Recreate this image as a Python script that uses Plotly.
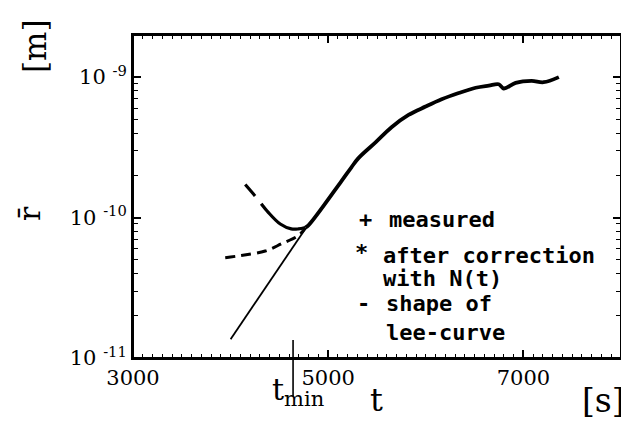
import plotly.graph_objects as go

# ---- data ----
main_t = [4766, 4797, 5136, 5238, 5310, 5485, 5649, 5823, 5998, 6162, 6337, 6511, 6645, 6747, 6799, 6920, 7084, 7207, 7363]
main_r = [8.5e-11, 8.8e-11, 1.82e-10, 2.28e-10, 2.65e-10, 3.43e-10, 4.4e-10, 5.38e-10, 6.17e-10, 6.95e-10,
          7.7e-10, 8.4e-10, 8.7e-10, 8.9e-10, 8.3e-10, 9.1e-10, 9.4e-10, 9.2e-10, 1.0e-9]
upper_t = [4150, 4253, 4386, 4509, 4622, 4694, 4766]
upper_r = [1.72e-10, 1.42e-10, 1.09e-10, 9.0e-11, 8.3e-11, 8.3e-11, 8.5e-11]
lower_t = [3945, 4109, 4355, 4520, 4694, 4766]
lower_r = [5.18e-11, 5.37e-11, 5.78e-11, 6.5e-11, 7.45e-11, 8.4e-11]
lee_t = [4000, 4770]
lee_r = [1.36e-11, 8.4e-11]
t_min = 4640

x_tickvals = [3000, 5000, 7000]
x_ticktext = ["3000", "5000", "7000"]
y_tickvals = [1e-11, 1e-10, 1e-9]
y_ticktext = ["10 <sup>-11</sup>", "10 <sup>-10</sup>", "10 <sup>-9</sup>"]

# ---- layout geometry ----
L, R, T, B = 125, 613, 27, 350
W_, H_ = 629, 431
PW, PH = R - L, B - T


def xp(px):
    return (px - L) / PW


def yp(py):
    return (B - py) / PH


fig = go.Figure()
fig.add_trace(go.Scatter(x=lee_t, y=lee_r, mode="lines",
                         line=dict(color="black", width=1.8), showlegend=False))
fig.add_trace(go.Scatter(x=lower_t, y=lower_r, mode="lines",
                         line=dict(color="black", width=3, dash="10px,6px", shape="spline"),
                         showlegend=False))
fig.add_trace(go.Scatter(x=upper_t, y=upper_r, mode="lines",
                         line=dict(color="black", width=3.2, dash="15px,10px,400px,10px", shape="spline"),
                         showlegend=False))
fig.add_trace(go.Scatter(x=main_t, y=main_r, mode="lines",
                         line=dict(color="black", width=3.8, shape="spline"),
                         showlegend=False))

serif = "DejaVu Serif"
mono = "DejaVu Sans Mono"

fig.update_xaxes(range=[3000, 8000], tickmode="array", tickvals=x_tickvals, ticktext=x_ticktext,
                 ticks="inside", ticklen=8, tickwidth=1.5, tickcolor="black",
                 showline=True, linecolor="black", linewidth=2, mirror="allticks",
                 showgrid=False, zeroline=False,
                 minor=dict(ticks="inside", ticklen=4, tickwidth=1.2, tickcolor="black",
                            tick0=3000, dtick=100, showgrid=False),
                 tickfont=dict(family=serif, size=21, color="black"))
fig.update_yaxes(type="log", range=[-11, -8.7], tickmode="array", tickvals=y_tickvals, ticktext=y_ticktext,
                 ticks="inside", ticklen=8, tickwidth=1.5, tickcolor="black",
                 showline=True, linecolor="black", linewidth=2, mirror="allticks",
                 showgrid=False, zeroline=False,
                 minor=dict(ticks="inside", ticklen=5, tickwidth=1.2, tickcolor="black",
                            dtick="D1", showgrid=False),
                 tickfont=dict(family=serif, size=21, color="black"))

ann = []


def add(text, px, py, size, family, xanchor="left", angle=0, yanchor="middle"):
    ann.append(dict(text=text, x=xp(px), y=yp(py), xref="paper", yref="paper",
                    showarrow=False, xanchor=xanchor, yanchor=yanchor, textangle=angle,
                    font=dict(family=family, size=size, color="black")))


# legend text
add("<b>+</b>", 357, 212, 22, mono, "center")
add("<b>measured</b>", 379, 211, 22, mono)
add("<b>*</b>", 353, 244, 22, mono, "center")
add("<b>after correction</b>", 373, 247, 22, mono)
add("<b>with N(t)</b>", 373, 270, 22, mono)
add("<b>-</b>", 355, 295, 22, mono, "center")
add("<b>shape of</b>", 376, 295, 22, mono)
add("<b>lee-curve</b>", 376, 324, 22, mono)

# axis labels
add("t", 368, 392, 32, serif, "center")
add("[s]", 619, 392, 33, serif, "right")
add("t<sub>min</sub>", 262, 384, 30, serif, "left")
add("[m]", 27, 38, 31, serif, "center", angle=-90)
add("r\u0304", 21, 206, 30, serif, "center", angle=-90)

fig.update_layout(annotations=ann)

# plot frame
fig.add_shape(type="rect", xref="paper", yref="paper", x0=0, x1=1, y0=0, y1=1,
              line=dict(color="black", width=2), layer="above")
# t_min marker line
fig.add_shape(type="line", xref="x", yref="paper", x0=t_min, x1=t_min, y0=yp(332), y1=yp(388),
              line=dict(color="black", width=1.6))

fig.update_layout(width=W_, height=H_, margin=dict(l=L, r=W_ - R, t=T, b=H_ - B),
                  paper_bgcolor="white", plot_bgcolor="white", showlegend=False)

fig.write_html("out.html")
